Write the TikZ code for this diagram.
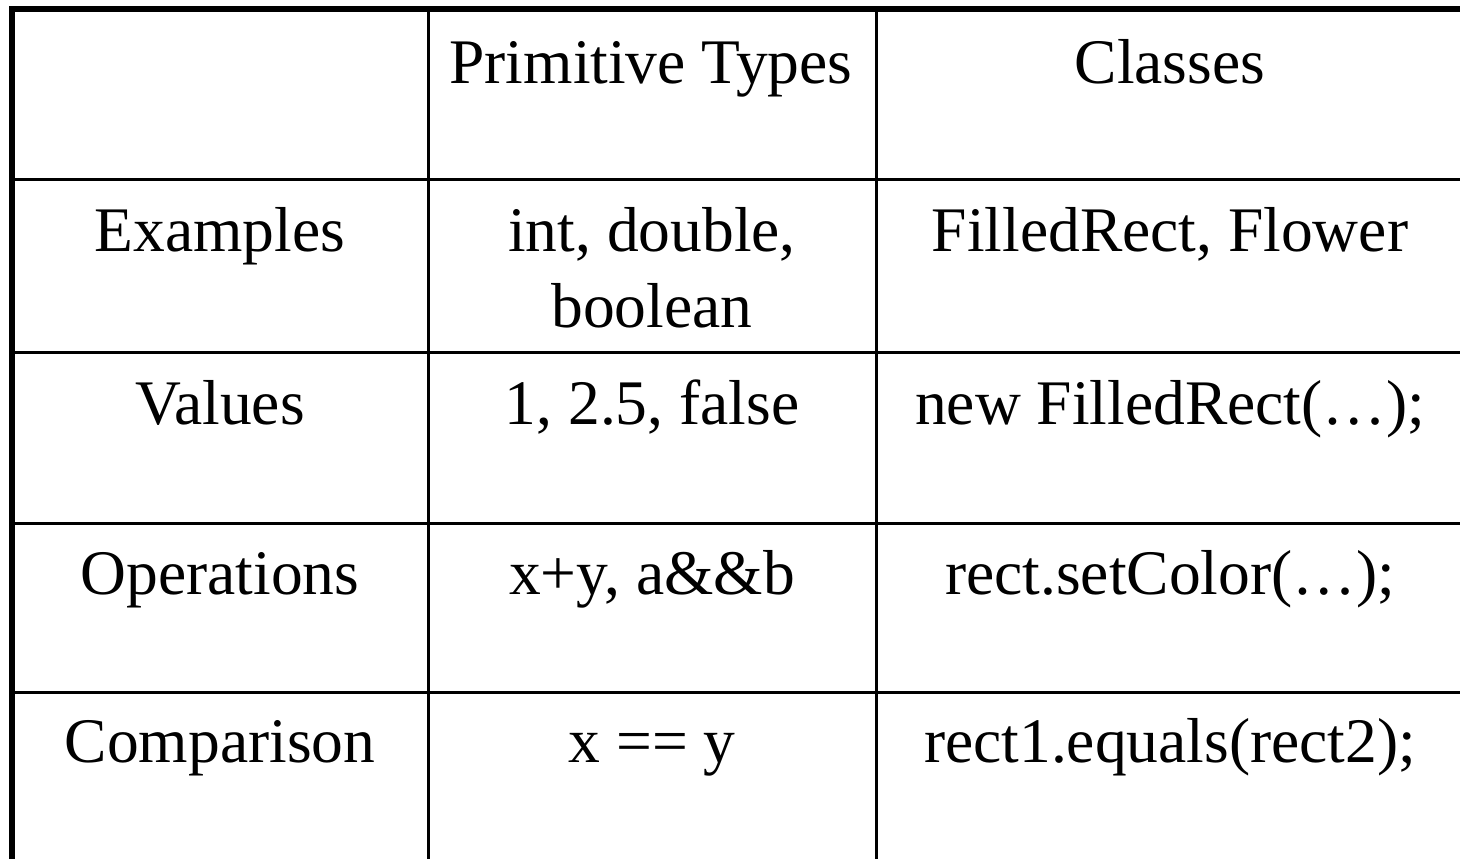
\documentclass[tikz,border=0pt]{standalone}
\usepackage{fontspec}
\setmainfont{Liberation Serif}
\begin{document}
\begin{tikzpicture}[x=1pt,y=-1pt,
  cell/.style={anchor=base, inner sep=0pt, font=\fontsize{63.5}{76}\selectfont},
  outer/.style={line width=6pt, line join=miter},
  inner/.style={line width=3.3pt}]
\useasboundingbox (0,0) rectangle (1460,859);
% borders
\draw[outer] (12,859) -- (12,9) -- (1460,9);
\draw[inner] (428.5,12) -- (428.5,859);
\draw[inner] (876.5,12) -- (876.5,859);
\foreach \y in {179.7,352.7,523.3,692.5}
  \draw[inner] (15,\y) -- (1460,\y);
% header
\node[cell] (hp) at (651,84) {Primitive Types};
\node[cell] (hc) at (1170,84) {Classes};
% rows
\node[cell] (r1) at (220,251) {Examples};
\node[cell] (r1a) at (652,251) {int, double,};
\node[cell] (r1b) at (652,327) {boolean};
\node[cell] (r1c) at (1170,251) {FilledRect, Flower};
\node[cell] (r2) at (220,424) {Values};
\node[cell] (r2a) at (652,424) {1, 2.5, false};
\node[cell] (r2c) at (1170,424) {new FilledRect(…);};
\node[cell] (r3) at (220,594) {Operations};
\node[cell] (r3a) at (652,594) {x+y, a\&\&b};
\node[cell] (r3c) at (1170,594) {rect.setColor(…);};
\node[cell] (r4) at (220,762) {Comparison};
\node[cell] (r4a) at (652,762) {x == y};
\node[cell] (r4c) at (1170,762) {rect1.equals(rect2);};
\end{tikzpicture}
\end{document}
